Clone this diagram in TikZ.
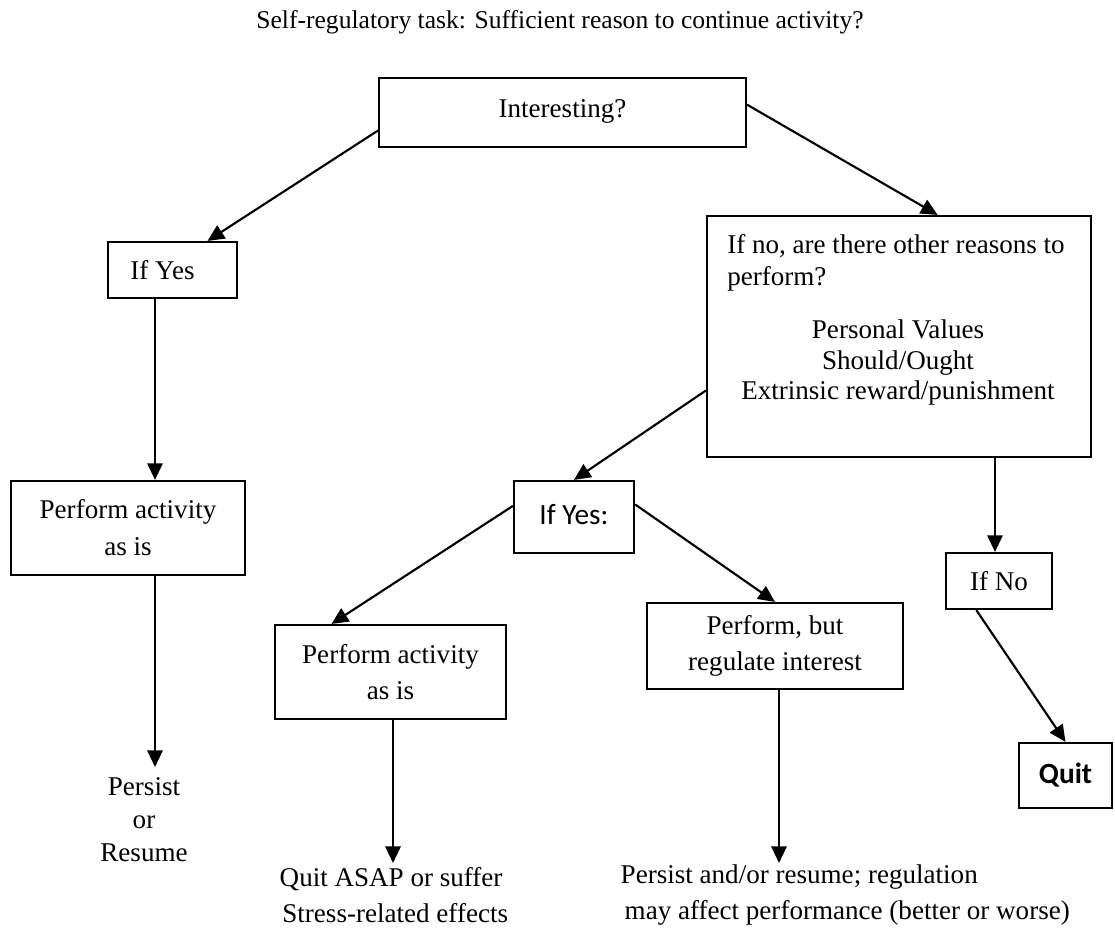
\documentclass[tikz,border=0pt]{standalone}
\usepackage{fontspec}
\setmainfont{Liberation Serif}
\newfontfamily\calib{Carlito}
\usetikzlibrary{arrows.meta,calc}
\begin{document}
\begin{tikzpicture}[x=0.75pt,y=-0.75pt,
  every node/.style={font=\fontsize{20.3}{27}\selectfont},
  box/.style={draw,line width=1.6pt,inner sep=0pt,align=center},
  arr/.style={line width=1.6pt,-{Triangle[length=12.5pt,width=11.5pt]}},
  sansbox/.style={box,font=\calib\fontsize{22}{26}\selectfont}]
\useasboundingbox (0,0) rectangle (1115,928);

\node[font=\fontsize{19.2}{24}\selectfont] (title) at (560,22) {Self-regulatory task: Sufficient reason to continue activity?};

\node[box,minimum width=275.25pt,minimum height=51.75pt] (int) at (562.5,112.5) {\raisebox{5.6pt}{Interesting?}};
\node[box,minimum width=96.75pt,minimum height=42pt] (y1) at (172.5,270) {\hspace*{-15pt}If Yes};
\node[box,minimum width=175.5pt,minimum height=70.5pt,font=\fontsize{20.3}{27.75}\selectfont] (pa1) at (128,528) {Perform activity\\as is};

\node[box,minimum width=288pt,minimum height=180.75pt] (big) at (899,336.5) {};
\node[align=left,anchor=north west,inner sep=0pt,font=\fontsize{20.3}{24}\selectfont] (bigq) at (727,234) {If no, are there other reasons to\\perform?};
\node[align=center,font=\fontsize{20.3}{22.9}\selectfont] (bigl) at (898,362.5) {Personal Values\\Should/Ought\\Extrinsic reward/punishment};

\node[sansbox,minimum width=90pt,minimum height=54pt] (y2) at (574,517) {\raisebox{3.75pt}{If Yes:}};
\node[box,minimum width=173.25pt,minimum height=70.5pt] (pa2) at (390.5,672) {Perform activity\\as is};
\node[box,minimum width=192pt,minimum height=64.5pt] (pr) at (775,646) {Perform, but\\regulate interest};
\node[box,minimum width=79.5pt,minimum height=42pt] (ifno) at (999,581) {If No};
\node[sansbox,minimum width=69.75pt,minimum height=48.75pt,font=\calib\bfseries\fontsize{22}{26}\selectfont] (quit) at (1065.5,775.5) {Quit};

\node[align=center,font=\fontsize{20.3}{24.75}\selectfont] (persist) at (144,820) {Persist\\or\\Resume};
\node[align=left,anchor=west] (qa) at (275,895) {Quit ASAP or suffer\\\hspace*{2pt}Stress-related effects};
\node[align=left,anchor=west] (pr2) at (616,895) {Persist and/or resume; regulation\\\hspace*{3pt}may affect performance (better or worse)};

\coordinate (c1) at (155,0);
\coordinate (t1) at (155,767);
\coordinate (c2) at (995,0);
\coordinate (t3) at (393,863);
\coordinate (t4) at (779,863);

\draw[arr] ($(int.north west)!0.754!(int.south west)$) -- ($(y1.north west)!0.767!(y1.north east)$);
\draw[arr] ($(int.north east)!0.39!(int.south east)$) -- ($(big.north west)!0.6!(big.north east)$);
\draw[arr] (y1.south -| c1) -- (pa1.north -| c1);
\draw[arr] (pa1.south -| c1) -- (t1);
\draw[arr] ($(big.north west)!0.722!(big.south west)$) -- (y2.north);
\draw[arr] ($(y2.north west)!0.35!(y2.south west)$) -- ($(pa2.north west)!0.247!(pa2.north east)$);
\draw[arr] ($(y2.north east)!0.33!(y2.south east)$) -- (pr.north);
\draw[arr] (big.south -| c2) -- (ifno.north -| c2);
\draw[arr] ($(ifno.south west)!0.29!(ifno.south east)$) -- (quit.north);
\draw[arr] (pa2.south -| t3) -- (t3);
\draw[arr] (pr.south -| t4) -- (t4);
\end{tikzpicture}
\end{document}
